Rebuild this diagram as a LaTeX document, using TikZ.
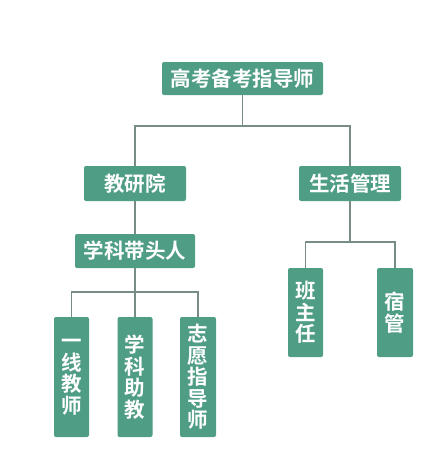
\documentclass[tikz,border=0pt]{standalone}
\usepackage{fontspec}
\newfontfamily\cjk{Noto Sans CJK SC Bold}
\definecolor{boxgreen}{RGB}{80,157,134}
\definecolor{linegray}{RGB}{118,140,132}
\begin{document}
\begin{tikzpicture}[x=1pt, y=-1pt,
    box/.style={fill=boxgreen, text=white, rounded corners=2pt, inner sep=0pt, align=center, font=\cjk\fontsize{20.5}{21.5}\selectfont},
    wire/.style={draw=linegray, line width=1.6pt}]
    \useasboundingbox (0,0) rectangle (439,461);
    \node [box, minimum width=161, minimum height=33] (top) at (242.5,78.5) {高考备考指导师};
    \node [box, minimum width=102, minimum height=35] (jyy) at (135,183.5) {教研院};
    \node [box, minimum width=102, minimum height=35] (shgl) at (350,183.5) {生活管理};
    \node [box, minimum width=120, minimum height=34] (xkdt) at (135,251) {学科带头人};
    \node [box, minimum width=35, minimum height=89] (bzr) at (305.5,312.5) {班\\主\\任};
    \node [box, minimum width=36, minimum height=89] (sg) at (395,312.5) {宿\\管};
    \node [box, minimum width=35, minimum height=120] (yxjs) at (71.5,377) {一\\线\\教\\师};
    \node [box, minimum width=35, minimum height=120] (xkzj) at (135,377) {学\\科\\助\\教};
    \node [box, minimum width=36, minimum height=120] (zyzd) at (198,377) {志\\愿\\指\\导\\师};
    \draw [wire] (top.south) -- ++(0,31) -| (jyy.north);
    \draw [wire] (top.south) ++(0,31) -| (shgl.north);
    \draw [wire] (jyy.south) -- (xkdt.north);
    \draw [wire] (shgl.south) -- ++(0,41) -| (bzr.north);
    \draw [wire] (shgl.south) ++(0,41) -| (sg.north);
    \draw [wire] (xkdt.south) -- (xkzj.north);
    \draw [wire] (xkdt.south) ++(0,24) -| (yxjs.north);
    \draw [wire] (xkdt.south) ++(0,24) -| (zyzd.north);
\end{tikzpicture}
\end{document}
